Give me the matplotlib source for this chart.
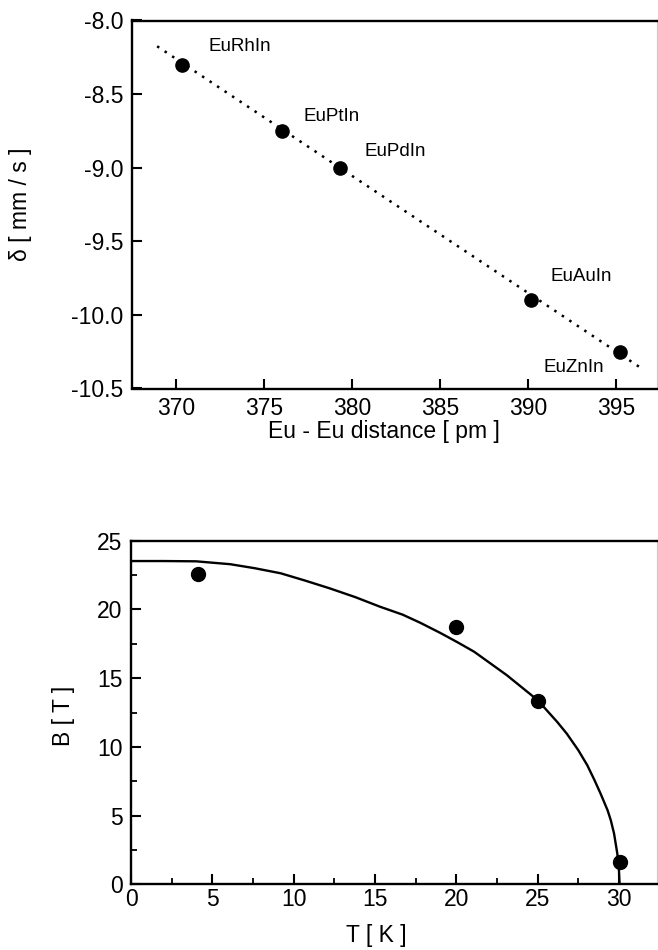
import numpy as np
import matplotlib
matplotlib.use("Agg")
import matplotlib.pyplot as plt
from matplotlib.ticker import MultipleLocator

plt.rcParams['font.family'] = ['Liberation Sans', 'DejaVu Sans']

# ---- top panel data ----
compounds = ["EuRhIn", "EuPtIn", "EuPdIn", "EuAuIn", "EuZnIn"]
eu_dist = [370.3, 376.0, 379.3, 390.15, 395.25]
delta = [-8.30, -8.75, -9.00, -9.90, -10.25]
label_x = [371.8, 377.2, 380.7, 391.3, 390.9]
label_y = [-8.18, -8.65, -8.89, -9.74, -10.36]
fit_x = [368.9, 396.6]
fit_y = [-8.175, -10.375]

# ---- bottom panel data ----
T_pts = [4.14, 19.96, 25.0, 30.04]
B_pts = [22.58, 18.70, 13.36, 1.65]
curve_T = [0.0, 2.0, 4.0, 6.1, 7.6, 9.2, 10.7, 12.2, 13.8, 15.3, 16.7, 17.8,
           19.0, 20.06, 21.1, 23.1, 25.0, 26.2, 26.8, 27.5,
           28.05, 28.5, 28.87, 29.3, 29.5, 29.7, 29.9, 30.0, 30.04]
curve_B = [23.52, 23.52, 23.5, 23.29, 23.0, 22.63, 22.1, 21.54, 20.89, 20.2,
           19.62, 19.02, 18.3, 17.62, 16.92, 15.22, 13.4, 11.82,
           10.95, 9.76, 8.67, 7.57, 6.6, 5.39, 4.66, 3.69, 2.23, 1.02, 0.0]

fig = plt.figure(figsize=(6.58, 9.5), dpi=100)
W, H = 658, 950

def add_ax(l, r, t, b):
    return fig.add_axes([l / W, 1 - b / H, (r - l) / W, (b - t) / H])

ax1 = add_ax(132, 657, 20.5, 388.5)
ax2 = add_ax(131, 657, 540.7, 884.3)

tick_fs = 16.5
for ax in (ax1, ax2):
    for s in ('left', 'bottom', 'top'):
        ax.spines[s].set_linewidth(1.7)
    ax.spines['right'].set_linewidth(0.8)
    ax.spines['right'].set_color('#c8c8c8')
    ax.tick_params(which='major', direction='in', length=7, width=1.5,
                   labelsize=tick_fs, top=False, right=False)
    ax.tick_params(which='minor', direction='in', length=4, width=1.3,
                   top=False, right=False)
ax1.tick_params(axis='x', pad=6)
ax1.tick_params(axis='y', pad=6)
ax2.tick_params(axis='x', pad=3)
ax2.tick_params(axis='y', pad=6)

# top panel
ax1.plot(fit_x, fit_y, color='black', linestyle=(0, (1, 2.6)), lw=1.8)
ax1.plot(eu_dist, delta, 'o', color='black', ms=9.5)
for name, lx, ly in zip(compounds, label_x, label_y):
    ax1.text(lx, ly, name, fontsize=13.5, ha='left', va='center')
ax1.set_xlim(367.47, 397.33)
ax1.set_ylim(-10.5, -8.0)
ax1.set_xticks([370, 375, 380, 385, 390, 395])
ax1.set_yticks([-8.0, -8.5, -9.0, -9.5, -10.0, -10.5])
ax1.set_yticklabels(["-8.0", "-8.5", "-9.0", "-9.5", "-10.0", "-10.5"])
ax1.set_xlabel("Eu - Eu distance [ pm ]", fontsize=16.5)
ax1.set_ylabel("δ [ mm / s ]", fontsize=16.5)
ax1.xaxis.set_label_coords(0.48, -0.085)
ax1.yaxis.set_label_coords(-0.19, 0.5)

# bottom panel
ax2.plot(curve_T, curve_B, color='black', lw=1.7)
ax2.plot(T_pts, B_pts, 'o', color='black', ms=10, clip_on=False)
ax2.set_xlim(0, 32.34)
ax2.set_ylim(0, 25)
ax2.xaxis.set_major_locator(MultipleLocator(5))
ax2.xaxis.set_minor_locator(MultipleLocator(2.5))
ax2.yaxis.set_major_locator(MultipleLocator(5))
ax2.yaxis.set_minor_locator(MultipleLocator(2.5))
ax2.set_xlabel("T [ K ]", fontsize=16.5)
ax2.set_ylabel("B [ T ]", fontsize=16.5)
ax2.xaxis.set_label_coords(0.466, -0.115)
ax2.yaxis.set_label_coords(-0.106, 0.49)

fig.savefig("out.png", dpi=100)
